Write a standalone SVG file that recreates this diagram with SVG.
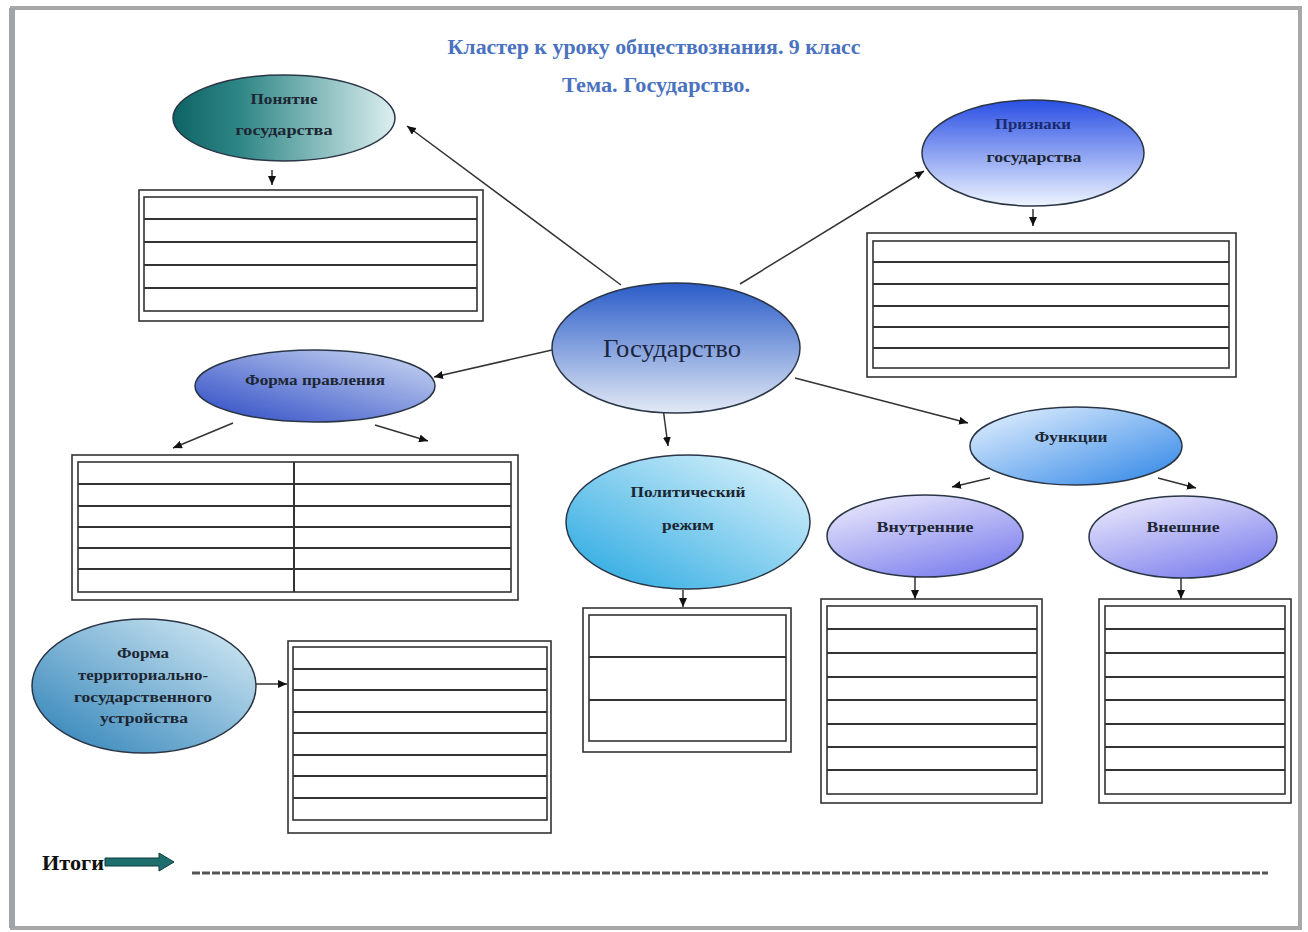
<svg xmlns="http://www.w3.org/2000/svg" width="1308" height="932" viewBox="0 0 1308 932">
<style>
.lbl{font-family:"Liberation Serif","DejaVu Serif",serif;font-weight:bold;font-size:15px;fill:#1c2633;text-anchor:middle}
.ttl{font-family:"Liberation Serif","DejaVu Serif",serif;font-weight:bold;font-size:22px;fill:#4a72c0;text-anchor:middle}
.ell{stroke:#2a3646;stroke-width:1.5}
.tbl rect{fill:#fff;stroke:#333;stroke-width:1.6}
.tbl line{stroke:#333;stroke-width:2}
#connectors line{stroke:#333;stroke-width:1.5;marker-end:url(#ah)}
</style>
<defs>
<marker id="ah" viewBox="0 0 9 8" refX="9" refY="4" markerWidth="9" markerHeight="8" markerUnits="userSpaceOnUse" orient="auto"><path d="M0,0 L9,4 L0,8 z" fill="#111"/></marker>
<linearGradient id="gTeal" x1="0" y1="0" x2="1" y2="0"><stop offset="0" stop-color="#0e6464"/><stop offset="0.3" stop-color="#2f8686"/><stop offset="1" stop-color="#dcefef"/></linearGradient>
<linearGradient id="gPriz" x1="0" y1="0" x2="0" y2="1"><stop offset="0" stop-color="#2a4fe4"/><stop offset="1" stop-color="#eef4ff"/></linearGradient>
<linearGradient id="gGos" x1="0" y1="0" x2="0" y2="1"><stop offset="0" stop-color="#2a5cc8"/><stop offset="1" stop-color="#e2e9f5"/></linearGradient>
<linearGradient id="gForm" x1="0" y1="1" x2="1" y2="0"><stop offset="0" stop-color="#2a48c4"/><stop offset="1" stop-color="#d0dcf4"/></linearGradient>
<linearGradient id="gPol" x1="0" y1="1" x2="1" y2="0"><stop offset="0" stop-color="#22a6e0"/><stop offset="1" stop-color="#e6f7fd"/></linearGradient>
<linearGradient id="gFun" x1="0" y1="0" x2="1" y2="1"><stop offset="0" stop-color="#eaf4ff"/><stop offset="1" stop-color="#2c84e6"/></linearGradient>
<linearGradient id="gLav" x1="0" y1="0" x2="0.6" y2="1"><stop offset="0" stop-color="#f2f0fd"/><stop offset="1" stop-color="#8486ee"/></linearGradient>
<linearGradient id="gTer" x1="0" y1="1" x2="1" y2="0"><stop offset="0" stop-color="#2a7fb6"/><stop offset="1" stop-color="#dbeef7"/></linearGradient>
</defs>
<rect x="0" y="0" width="1308" height="932" fill="#fff"/>
<rect id="page" x="12" y="8" width="1288" height="920" fill="#fff" stroke="#a8a8a8" stroke-width="4"/>
<rect x="9" y="8" width="6" height="920" fill="#a0a3a8"/>

<g id="title">
<text class="ttl" x="654" y="54" textLength="413" lengthAdjust="spacingAndGlyphs">Кластер к уроку обществознания. 9 класс</text>
<text class="ttl" x="656" y="92" textLength="188" lengthAdjust="spacingAndGlyphs">Тема. Государство.</text>
</g>

<g id="connectors">
<line x1="621" y1="285" x2="407" y2="126"/>
<line x1="740" y1="284" x2="924" y2="171"/>
<line x1="552" y1="350" x2="434" y2="377"/>
<line x1="663" y1="408" x2="668" y2="446"/>
<line x1="795" y1="378" x2="968" y2="423"/>
<line x1="272" y1="170" x2="272" y2="185"/>
<line x1="1033" y1="209" x2="1033" y2="226"/>
<line x1="233" y1="423" x2="173" y2="448"/>
<line x1="375" y1="425" x2="428" y2="441"/>
<line x1="683" y1="590" x2="683" y2="607"/>
<line x1="990" y1="478" x2="952" y2="487"/>
<line x1="1158" y1="478" x2="1196" y2="488"/>
<line x1="915" y1="577" x2="915" y2="599"/>
<line x1="1181" y1="578" x2="1181" y2="599"/>
<line x1="256" y1="684" x2="287" y2="684"/>
</g>

<g id="n-ponyatie">
<ellipse class="ell" cx="284" cy="118" rx="111" ry="43" fill="url(#gTeal)"/>
<text class="lbl" x="284" y="104" textLength="67" lengthAdjust="spacingAndGlyphs">Понятие</text>
<text class="lbl" x="284" y="135" textLength="97" lengthAdjust="spacingAndGlyphs">государства</text>
</g>
<g id="t-ponyatie" class="tbl">
<rect x="139" y="190" width="344" height="131"/>
<rect x="144" y="197" width="333" height="114"/>
<line x1="144" y1="219" x2="477" y2="219"/><line x1="144" y1="242" x2="477" y2="242"/><line x1="144" y1="265" x2="477" y2="265"/><line x1="144" y1="288" x2="477" y2="288"/>
</g>

<g id="n-priznaki">
<ellipse class="ell" cx="1033" cy="153" rx="111" ry="53" fill="url(#gPriz)"/>
<text class="lbl" x="1033" y="129" style="fill:#1a2a6e" textLength="76" lengthAdjust="spacingAndGlyphs">Признаки</text>
<text class="lbl" x="1034" y="162" textLength="95" lengthAdjust="spacingAndGlyphs">государства</text>
</g>
<g id="t-priznaki" class="tbl">
<rect x="867" y="233" width="369" height="144"/>
<rect x="873" y="241" width="356" height="127"/>
<line x1="873" y1="262" x2="1229" y2="262"/><line x1="873" y1="284" x2="1229" y2="284"/><line x1="873" y1="306" x2="1229" y2="306"/><line x1="873" y1="327" x2="1229" y2="327"/><line x1="873" y1="348" x2="1229" y2="348"/>
</g>

<g id="n-gosudarstvo">
<ellipse class="ell" cx="676" cy="348" rx="124" ry="65" fill="url(#gGos)"/>
<text class="lbl" x="672" y="357" style="font-size:26px;font-weight:normal;fill:#1a2640" textLength="138" lengthAdjust="spacingAndGlyphs">Государство</text>
</g>

<g id="n-forma-pravleniya">
<ellipse class="ell" cx="315" cy="386" rx="120" ry="36" fill="url(#gForm)"/>
<text class="lbl" x="315" y="385" textLength="140" lengthAdjust="spacingAndGlyphs">Форма правления</text>
</g>
<g id="t-forma-pravleniya" class="tbl">
<rect x="72" y="455" width="446" height="145"/>
<rect x="78" y="462" width="433" height="130"/>
<line x1="78" y1="484" x2="511" y2="484"/><line x1="78" y1="506" x2="511" y2="506"/><line x1="78" y1="527" x2="511" y2="527"/><line x1="78" y1="548" x2="511" y2="548"/><line x1="78" y1="569" x2="511" y2="569"/>
<line x1="294" y1="462" x2="294" y2="592"/>
</g>

<g id="n-politicheskiy">
<ellipse class="ell" cx="688" cy="522" rx="122" ry="67" fill="url(#gPol)"/>
<text class="lbl" x="688" y="497" textLength="115" lengthAdjust="spacingAndGlyphs">Политический</text>
<text class="lbl" x="688" y="530" textLength="52" lengthAdjust="spacingAndGlyphs">режим</text>
</g>
<g id="t-politicheskiy" class="tbl">
<rect x="583" y="608" width="208" height="144"/>
<rect x="589" y="615" width="197" height="126"/>
<line x1="589" y1="657" x2="786" y2="657"/><line x1="589" y1="700" x2="786" y2="700"/>
</g>

<g id="n-funkcii">
<ellipse class="ell" cx="1076" cy="446" rx="106" ry="39" fill="url(#gFun)"/>
<text class="lbl" x="1071" y="442" textLength="73" lengthAdjust="spacingAndGlyphs">Функции</text>
</g>

<g id="n-vnutrennie">
<ellipse class="ell" cx="925" cy="536" rx="98" ry="41" fill="url(#gLav)"/>
<text class="lbl" x="925" y="532" textLength="97" lengthAdjust="spacingAndGlyphs">Внутренние</text>
</g>
<g id="t-vnutrennie" class="tbl">
<rect x="821" y="599" width="221" height="204"/>
<rect x="827" y="606" width="210" height="188"/>
<line x1="827" y1="629" x2="1037" y2="629"/><line x1="827" y1="653" x2="1037" y2="653"/><line x1="827" y1="677" x2="1037" y2="677"/><line x1="827" y1="700" x2="1037" y2="700"/><line x1="827" y1="724" x2="1037" y2="724"/><line x1="827" y1="747" x2="1037" y2="747"/><line x1="827" y1="770" x2="1037" y2="770"/>
</g>

<g id="n-vneshnie">
<ellipse class="ell" cx="1183" cy="537" rx="94" ry="41" fill="url(#gLav)"/>
<text class="lbl" x="1183" y="532" textLength="73" lengthAdjust="spacingAndGlyphs">Внешние</text>
</g>
<g id="t-vneshnie" class="tbl">
<rect x="1099" y="599" width="192" height="204"/>
<rect x="1105" y="606" width="180" height="188"/>
<line x1="1105" y1="629" x2="1285" y2="629"/><line x1="1105" y1="653" x2="1285" y2="653"/><line x1="1105" y1="677" x2="1285" y2="677"/><line x1="1105" y1="700" x2="1285" y2="700"/><line x1="1105" y1="724" x2="1285" y2="724"/><line x1="1105" y1="747" x2="1285" y2="747"/><line x1="1105" y1="770" x2="1285" y2="770"/>
</g>

<g id="n-territorialnoe">
<ellipse class="ell" cx="144" cy="686" rx="112" ry="67" fill="url(#gTer)"/>
<text class="lbl" x="143" y="658" textLength="52" lengthAdjust="spacingAndGlyphs">Форма</text>
<text class="lbl" x="143" y="680" textLength="130" lengthAdjust="spacingAndGlyphs">территориально-</text>
<text class="lbl" x="143" y="702" textLength="138" lengthAdjust="spacingAndGlyphs">государственного</text>
<text class="lbl" x="144" y="723" textLength="88" lengthAdjust="spacingAndGlyphs">устройства</text>
</g>
<g id="t-territorialnoe" class="tbl">
<rect x="288" y="641" width="263" height="192"/>
<rect x="293" y="647" width="254" height="173"/>
<line x1="293" y1="669" x2="547" y2="669"/><line x1="293" y1="690" x2="547" y2="690"/><line x1="293" y1="712" x2="547" y2="712"/><line x1="293" y1="733" x2="547" y2="733"/><line x1="293" y1="755" x2="547" y2="755"/><line x1="293" y1="776" x2="547" y2="776"/><line x1="293" y1="798" x2="547" y2="798"/>
</g>

<g id="itogi">
<text x="42" y="870" style="font-family:'Liberation Serif','DejaVu Serif',serif;font-weight:bold;font-size:21px;fill:#111" textLength="62" lengthAdjust="spacingAndGlyphs">Итоги</text>
<polygon points="105,858 159,858 159,853 174,862 159,871 159,866 105,866" fill="#1f6e6e" stroke="#0e3c3c" stroke-width="1"/>
<line x1="192" y1="873" x2="1268" y2="873" stroke="#555" stroke-width="3" stroke-dasharray="8 2"/>
</g>
</svg>
